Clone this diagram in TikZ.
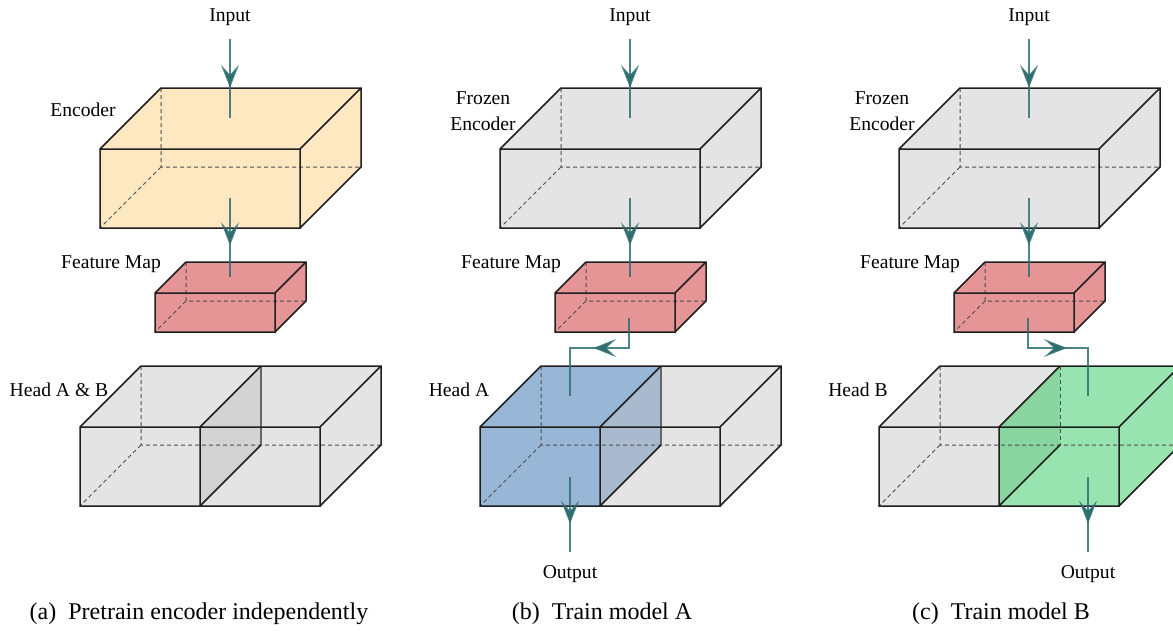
\documentclass[tikz,border=0pt]{standalone}
\usepackage{fontspec}
\setmainfont{Liberation Serif}
\usetikzlibrary{arrows.meta,decorations.markings}
\definecolor{encyellow}{HTML}{FDE8C2}
\definecolor{fmred}{HTML}{E69597}
\definecolor{boxgray}{HTML}{E4E4E4}
\definecolor{partgray}{HTML}{D3D3D3}
\definecolor{headblue}{HTML}{98B6D6}
\definecolor{partblue}{HTML}{A9BACE}
\definecolor{headgreen}{HTML}{98E4B0}
\definecolor{partgreen}{HTML}{88D5A0}
\definecolor{flowteal}{HTML}{2F6E70}

% fill, x, y (front top-left), width, height, depth
\newcommand{\drawcuboid}[6]{%
  \fill[#1] (#2,#3) -- ++(#6,-#6) -- ++(#4,0) -- ++(0,#5) -- ++(-#6,#6) -- ++(-#4,0) -- cycle;
  \draw[hidden] (#2,#3) ++(#6,-#6) -- ++(0,#5) -- ++(#4,0) ++(-#4,0) -- ++(-#6,#6);
  \draw[edge] (#2,#3) rectangle ++(#4,#5)
    (#2,#3) -- ++(#6,-#6) -- ++(#4,0) -- ++(0,#5) -- ++(-#6,#6)
    (#2,#3) ++(#4,0) -- ++(#6,-#6);
}

\begin{document}
\begin{tikzpicture}[x=0.5pt, y=-0.5pt,
    edge/.style={line width=0.75pt, draw=black!88},
    partedge/.style={line width=0.6pt, draw=black!60},
    hidden/.style={line width=0.5pt, draw=black!70, dash pattern=on 2pt off 1.5pt},
    flow/.style={line width=1pt, draw=flowteal, draw opacity=0.85},
    midarrow/.style={postaction={decorate}, decoration={markings,
      mark=at position #1 with {\arrow[flowteal]{Stealth[length=11.5pt, width=9pt, inset=5pt]}}}},
    lbl/.style={font=\fontsize{9.8}{13}\selectfont, align=center, inner sep=1pt},
    io/.style={lbl, outer sep=5.5pt},
    caption/.style={font=\fontsize{12}{14}\selectfont}]
  \useasboundingbox (0,0) rectangle (1173,632);

  % the three panels: boxes and common parts
  \foreach \ox/\encfill/\lfill/\rfill/\pfill/\pback in
      {0/encyellow/boxgray/boxgray/partgray/partedge,
       400/boxgray/headblue/boxgray/partblue/partedge,
       799/boxgray/boxgray/headgreen/partgreen/hidden}{
    \begin{scope}[shift={(\ox,0)}]
      \drawcuboid{\encfill}{100}{149}{200}{79}{61}
      \drawcuboid{fmred}{155}{293}{120}{39}{31}
      % head, two halves
      \fill[\lfill] (80,427) -- ++(61,-61) -- ++(120,0) -- ++(0,79) -- ++(-61,61) -- ++(-120,0) -- cycle;
      \fill[\rfill] (200,427) -- ++(61,-61) -- ++(120,0) -- ++(0,79) -- ++(-61,61) -- ++(-120,0) -- cycle;
      \fill[\pfill] (200,427) -- ++(61,-61) -- ++(0,79) -- ++(-61,61) -- cycle;
      \draw[hidden] (141,366) -- ++(0,79) -- ++(240,0) ++(-240,0) -- (80,506);
      \draw[\pback] (261,366) -- (261,445);
      \draw[edge] (80,427) rectangle (320,506) (200,427) -- (200,506)
        (80,427) -- (141,366) -- (381,366) -- (381,445) -- (320,506)
        (320,427) -- (381,366) (200,427) -- (261,366) (200,506) -- (261,445);

      \node[io] (in\ox) at (230,17) {Input};
      \coordinate (encin\ox) at (230,118);
      \coordinate (encout\ox) at (230,198);
      \coordinate (fmin\ox) at (230,277);
      \draw[flow, midarrow=0.62] (in\ox.south) -- (encin\ox);
      \draw[flow, midarrow=0.6] (encout\ox) -- (fmin\ox);
      \node[lbl] (fm\ox) at (111,264) {Feature Map};
    \end{scope}
  }

  % (a)
  \node[lbl] (encA) at (83,110) {Encoder};
  \node[lbl] (headAB) at (59,390) {Head A \& B};
  \node[caption] (capA) at (199,614) {(a)\enskip Pretrain encoder independently};

  % (b)
  \node[lbl] (encB) at (483,111) {Frozen\\Encoder};
  \node[lbl] (headA) at (459,390) {Head A};
  \coordinate (fmoutB) at (629,318);
  \coordinate (headinA) at (570,396);
  \coordinate (headoutA) at (570,477);
  \node[io] (outA) at (570,574) {Output};
  \draw[flow, midarrow=0.48] (fmoutB) -- ++(0,30) -| (headinA);
  \draw[flow, midarrow=0.62] (headoutA) -- (outA.north);
  \node[caption] (capB) at (602,614) {(b)\enskip Train model A};

  % (c)
  \node[lbl] (encC) at (882,111) {Frozen\\Encoder};
  \node[lbl] (headB) at (858,390) {Head B};
  \coordinate (fmoutC) at (1028,318);
  \coordinate (headinB) at (1088,396);
  \coordinate (headoutB) at (1088,477);
  \node[io] (outB) at (1088,574) {Output};
  \draw[flow, midarrow=0.5] (fmoutC) -- ++(0,30) -| (headinB);
  \draw[flow, midarrow=0.62] (headoutB) -- (outB.north);
  \node[caption] (capC) at (1001,614) {(c)\enskip Train model B};
\end{tikzpicture}
\end{document}
